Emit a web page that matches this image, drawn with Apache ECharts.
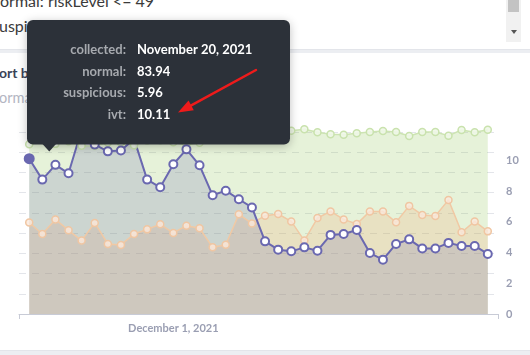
<!DOCTYPE html>
<html><head><meta charset="utf-8">
<script src="https://cdn.jsdelivr.net/npm/echarts@6/dist/echarts.min.js"></script>
<style>
html,body{margin:0;padding:0;width:530px;height:355px;overflow:hidden;background:#fff;font-family:Lato,"Noto Sans",sans-serif;}
.abs{position:absolute;white-space:nowrap;}
#chart{position:absolute;left:0;top:0;width:530px;height:355px;}
</style></head><body>
<div class="abs" style="left:0;top:-9px;font-size:16px;line-height:20px;color:#3b3b3b;">ormal: riskLevel &lt;= 49</div>
<div class="abs" style="left:-1px;top:15.5px;font-size:16px;line-height:20px;color:#3b3b3b;">uspicious</div>
<div class="abs" style="left:506px;top:0;width:15px;height:42px;background:#f1f1f1;"></div>
<div class="abs" style="left:508px;top:0;width:11px;height:12px;background:#c3c3c3;"></div>
<div class="abs" style="left:511px;top:30px;width:0;height:0;border-left:3.5px solid transparent;border-right:3.5px solid transparent;border-top:4px solid #555;"></div>
<div class="abs" style="left:0;top:49px;width:530px;height:3px;background:#eceef2;border-top:1px solid #e3e5ea;"></div>
<div class="abs" style="left:-1px;top:63px;font-size:14px;line-height:20px;font-weight:700;color:#3a4257;">ort by</div>
<div class="abs" style="left:-1px;top:88px;font-size:14.5px;line-height:20px;color:#b3b6c2;">ormal</div>
<div class="abs" style="left:0;top:350px;width:530px;height:5px;background:#eceef2;border-top:1px solid #e3e5ea;"></div>
<div id="chart"></div>
<script>
const dates = ["November 20, 2021","November 21, 2021","November 22, 2021","November 23, 2021","November 24, 2021","November 25, 2021","November 26, 2021","November 27, 2021","November 28, 2021","November 29, 2021","November 30, 2021","December 1, 2021","December 2, 2021","December 3, 2021","December 4, 2021","December 5, 2021","December 6, 2021","December 7, 2021","December 8, 2021","December 9, 2021","December 10, 2021","December 11, 2021","December 12, 2021","December 13, 2021","December 14, 2021","December 15, 2021","December 16, 2021","December 17, 2021","December 18, 2021","December 19, 2021","December 20, 2021","December 21, 2021","December 22, 2021","December 23, 2021","December 24, 2021","December 25, 2021"];
const normal = [83.94,86.04,84.13,85.39,83.22,83.04,84.85,84.86,83.39,85.74,85.91,84.97,83.53,84.74,87.93,87.46,86.04,87.16,88.87,89.30,90.67,91.36,89.88,88.89,88.69,89.38,90.02,90.52,90.02,88.05,90.02,90.02,88.20,91.01,89.88,91.16];
const suspicious = [5.96,5.21,6.16,5.45,4.78,5.93,4.56,4.50,5.21,5.51,5.84,5.28,5.75,5.58,4.34,4.51,6.49,5.90,6.40,6.51,6.03,4.78,6.25,6.68,6.16,5.86,6.68,6.68,5.97,7.04,6.45,6.38,7.43,5.32,6.03,5.38];
const ivt = [10.11,8.75,9.71,9.16,12.0,11.03,10.59,10.64,11.4,8.75,8.25,9.75,10.72,9.68,7.73,8.03,7.47,6.94,4.73,4.19,4.08,4.34,4.12,5.15,5.21,5.47,3.97,3.54,4.56,4.86,4.27,4.27,4.63,4.43,4.43,3.91];
const rightTicks = [0,2,4,6,8,10];
const xLabelIndex = [11];
const tipIndex = 0;

const chart = echarts.init(document.getElementById('chart'), null, {renderer:'canvas'});
const pts = arr => arr.map((v,i)=>[i,v]);
const ivtData = ivt.map((v,i)=> i===tipIndex ? {value:[i,v], symbolSize:9, itemStyle:{color:'#6a68b0',borderColor:'#6a68b0'}} : [i,v]);
const rows = [['collected:', dates[tipIndex]],['normal:', normal[tipIndex].toFixed(2)],['suspicious:', suspicious[tipIndex].toFixed(2)],['ivt:', ivt[tipIndex].toFixed(2)]];
const ZL = 5;
const tipEls = [];
rows.forEach((r,k)=>{
  const y = 49.5 + k*21.9;
  tipEls.push({type:'text', zlevel:ZL, z:102, x:126, y:y, style:{text:r[0], fill:'#a7aaaf', font:'bold 13px Lato', align:'right', verticalAlign:'middle'}});
  tipEls.push({type:'text', zlevel:ZL, z:102, x:137, y:y, style:{text:r[1], fill:'#ffffff', font:'bold 13px Lato', align:'left', verticalAlign:'middle'}});
});
const tip=[178,112.5], tail=[256,70];
const dx=tip[0]-tail[0], dy=tip[1]-tail[1], L=Math.hypot(dx,dy), ux=dx/L, uy=dy/L;
const hl=15, hw=5.5;
const bx=tip[0]-ux*hl, by=tip[1]-uy*hl;
const option = {
  animation:false,
  backgroundColor:'transparent',
  grid:{left:19, right:32, top:132, bottom:41},
  xAxis:{type:'value', min:-0.78, max:35.78,
    axisLine:{show:true, lineStyle:{color:'#c8cbd6', width:1}},
    axisTick:{show:true, customValues:[-0.78,35.78], length:5, lineStyle:{color:'#c8cbd6'}},
    axisLabel:{customValues:xLabelIndex, formatter:v=>dates[Math.round(v)], color:'#9a9eb2', fontWeight:'bold', fontSize:11, fontFamily:'Lato', margin:9},
    splitLine:{show:false}},
  yAxis:[
    {type:'value', min:0, max:90, interval:10, position:'left', axisLabel:{show:false}, axisLine:{show:false}, axisTick:{show:false},
      splitLine:{show:true, lineStyle:{color:'#e3e5ea', type:[7,6], width:1}}},
    {type:'value', min:0, max:11.85, interval:2, position:'right', axisLine:{show:false}, axisTick:{show:false}, splitLine:{show:false},
      axisLabel:{customValues:rightTicks, color:'#9a9eb2', fontWeight:'bold', fontSize:11, fontFamily:'Lato', margin:8}}
  ],
  series:[
    {name:'normal', type:'line', yAxisIndex:0, data:pts(normal), clip:false, symbol:'circle', symbolSize:7,
      lineStyle:{color:'#cde4b3', width:1.5}, itemStyle:{color:'rgba(240,247,232,0.9)', borderColor:'#c9e2ad', borderWidth:1.5},
      areaStyle:{color:'rgba(139,195,74,0.3)'}},
    {name:'suspicious', type:'line', yAxisIndex:1, data:pts(suspicious), clip:false, symbol:'circle', symbolSize:7,
      lineStyle:{color:'#f1c9a4', width:1.5}, itemStyle:{color:'rgba(250,232,220,0.8)', borderColor:'#f0c6a2', borderWidth:1.5},
      areaStyle:{color:'rgba(240,160,107,0.3)'}},
    {name:'ivt', type:'line', yAxisIndex:1, data:ivtData, clip:false, symbol:'circle', symbolSize:8,
      lineStyle:{color:'#6a68b0', width:2}, itemStyle:{color:'#ffffff', borderColor:'#6a68b0', borderWidth:2},
      areaStyle:{color:'rgba(108,106,176,0.3)'}, z:3}
  ],
  graphic:[
    {type:'rect', zlevel:ZL, z:100, shape:{x:27, y:20, width:263, height:124.5, r:6}, style:{fill:'#2c3139', shadowBlur:10, shadowColor:'rgba(0,0,0,0.25)', shadowOffsetY:2}},
    {type:'polygon', zlevel:ZL, z:101, shape:{points:[[42.5,144],[56,144],[49.3,151.5]]}, style:{fill:'#2c3139'}},
    ...tipEls,
    {type:'line', zlevel:ZL, z:103, shape:{x1:tail[0], y1:tail[1], x2:bx+ux*2, y2:by+uy*2}, style:{stroke:'#ee1b1b', lineWidth:2.5, lineCap:'round'}},
    {type:'polygon', zlevel:ZL, z:103, shape:{points:[tip,[bx-uy*hw, by+ux*hw],[bx+uy*hw, by-ux*hw]]}, style:{fill:'#ee1b1b'}}
  ]
};
chart.setOption(option);
</script>
</body></html>
